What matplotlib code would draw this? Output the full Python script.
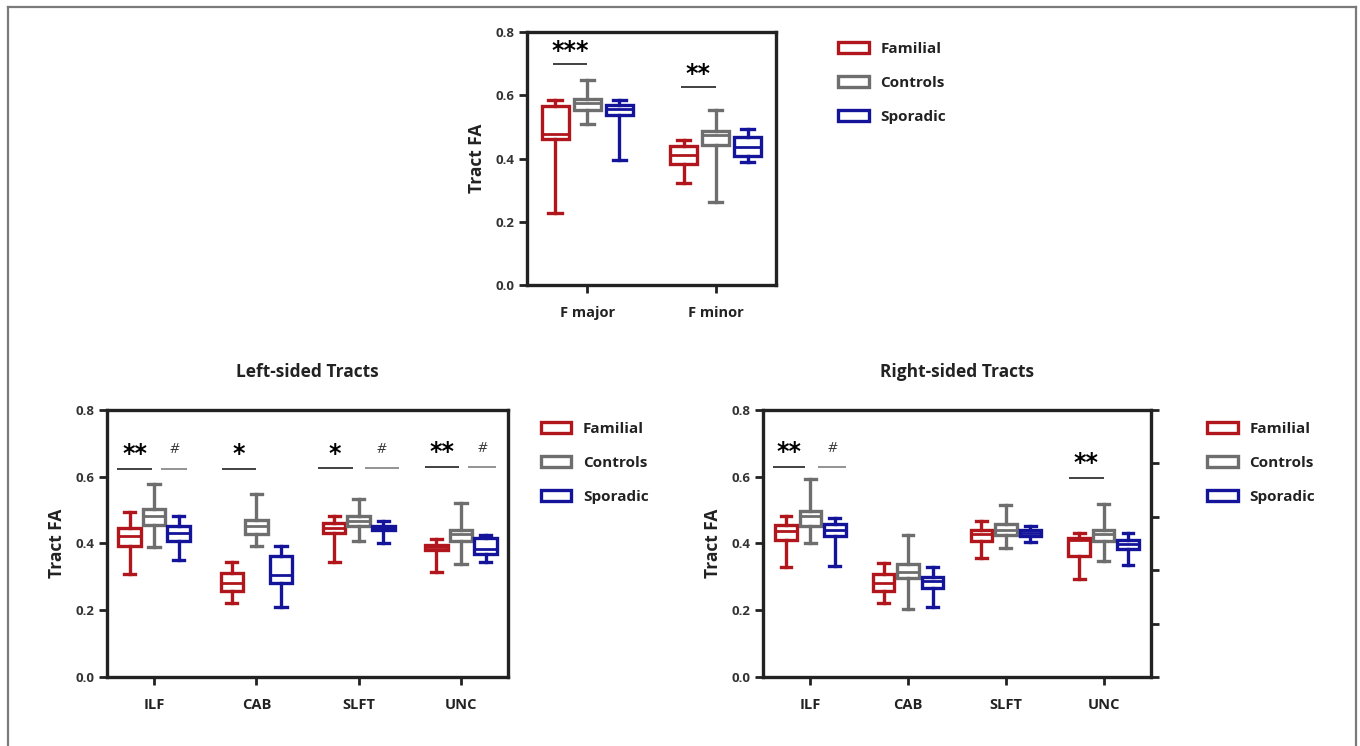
import matplotlib
matplotlib.use("Agg")
import matplotlib.pyplot as plt
from matplotlib.patches import Patch
from matplotlib.lines import Line2D
import numpy as np

plt.rcParams['font.family'] = ['Open Sans', 'DejaVu Sans']
plt.rcParams['font.weight'] = 'bold'

groups = ['Familial', 'Controls', 'Sporadic']
colors = ['#B0161C', '#6E6E6E', '#14149A']

# top panel: forceps
top_cats = ['F major', 'F minor']
# per group: [whislo, q1, med, q3, whishi] for each category
top_stats = {
    'Familial': [[0.229, 0.463, 0.479, 0.565, 0.584], [0.321, 0.384, 0.410, 0.439, 0.458]],
    'Controls': [[0.508, 0.555, 0.576, 0.589, 0.647], [0.263, 0.442, 0.474, 0.487, 0.555]],
    'Sporadic': [[0.395, 0.537, 0.558, 0.568, 0.584], [0.389, 0.407, 0.437, 0.468, 0.492]],
}

tract_cats = ['ILF', 'CAB', 'SLFT', 'UNC']
left_stats = {
    'Familial': [[0.308, 0.391, 0.421, 0.446, 0.493], [0.221, 0.259, 0.283, 0.311, 0.343],
                 [0.343, 0.431, 0.446, 0.461, 0.481], [0.316, 0.381, 0.389, 0.396, 0.413]],
    'Controls': [[0.388, 0.456, 0.481, 0.503, 0.578], [0.391, 0.429, 0.453, 0.471, 0.548],
                 [0.406, 0.451, 0.466, 0.483, 0.533], [0.339, 0.406, 0.429, 0.441, 0.521]],
    'Sporadic': [[0.349, 0.406, 0.431, 0.453, 0.481], [0.209, 0.281, 0.306, 0.361, 0.393],
                 [0.401, 0.439, 0.446, 0.453, 0.466], [0.343, 0.369, 0.383, 0.416, 0.426]],
}
right_stats = {
    'Familial': [[0.328, 0.411, 0.436, 0.456, 0.483], [0.221, 0.258, 0.283, 0.309, 0.341],
                 [0.356, 0.406, 0.429, 0.441, 0.468], [0.293, 0.361, 0.410, 0.416, 0.431]],
    'Controls': [[0.401, 0.451, 0.481, 0.496, 0.593], [0.203, 0.296, 0.316, 0.339, 0.424],
                 [0.386, 0.424, 0.441, 0.458, 0.516], [0.346, 0.406, 0.428, 0.441, 0.519]],
    'Sporadic': [[0.333, 0.421, 0.441, 0.458, 0.476], [0.209, 0.266, 0.288, 0.299, 0.329],
                 [0.403, 0.421, 0.431, 0.439, 0.451], [0.336, 0.383, 0.399, 0.411, 0.431]],
}

# significance marks: (category index, x0 offset, x1 offset, line y, text y, label)
top_sig = [(0, -0.27, 0.0, 0.700, 0.752, '***'), (1, -0.27, 0.0, 0.626, 0.680, '**')]
left_sig = [(0, -0.36, -0.02, 0.623, 0.680, '**'), (0, 0.07, 0.32, 0.623, 0.680, '#'),
            (1, -0.34, 0.0, 0.624, 0.680, '*'),
            (2, -0.40, -0.06, 0.626, 0.680, '*'), (2, 0.06, 0.39, 0.626, 0.680, '#'),
            (3, -0.35, -0.02, 0.629, 0.685, '**'), (3, 0.07, 0.34, 0.629, 0.685, '#')]
right_sig = [(0, -0.38, -0.05, 0.628, 0.685, '**'), (0, 0.08, 0.36, 0.628, 0.685, '#'),
             (3, -0.35, 0.0, 0.595, 0.652, '**')]

fig = plt.figure(figsize=(13.6, 7.46), dpi=100)


def draw_panel(ax, cats, stats, sigs, offset, width, xpad):
    n = len(cats)
    x = np.arange(n)
    for gi, g in enumerate(groups):
        st = [dict(whislo=s[0], q1=s[1], med=s[2], q3=s[3], whishi=s[4], fliers=[])
              for s in stats[g]]
        c = colors[gi]
        ax.bxp(st, positions=x + (gi - 1) * offset, widths=width,
               capwidths=width * 0.5, patch_artist=True, showfliers=False,
               boxprops=dict(facecolor='white', edgecolor=c, linewidth=2.4),
               medianprops=dict(color=c, linewidth=2.0),
               whiskerprops=dict(color=c, linewidth=2.4),
               capprops=dict(color=c, linewidth=2.4))
    for ci, a, b, ly, ty, lab in sigs:
        lc = '#333333' if lab != '#' else '#8A8A8A'
        ax.plot([ci + a, ci + b], [ly, ly], color=lc, lw=1.3, solid_capstyle='butt')
        if lab == '#':
            ax.text(ci + (a + b) / 2, ty, lab, ha='center', va='center', fontsize=10.5,
                    style='italic', color='#333333', fontweight='normal')
        else:
            ax.text(ci + (a + b) / 2, ty - 0.012, lab, ha='center', va='center', fontsize=17,
                    color='black', family=['DejaVu Sans'])
    ax.set_xlim(-xpad, n - 1 + xpad)
    ax.set_ylim(0, 0.8)
    ax.set_xticks(x)
    ax.set_xticklabels(cats, fontsize=10.5, fontweight='bold', color='#222222')
    ax.set_yticks([0, 0.2, 0.4, 0.6, 0.8])
    ax.set_yticklabels(['0.0', '0.2', '0.4', '0.6', '0.8'], fontsize=9.5, fontweight='bold',
                       color='#333333')
    ax.tick_params(axis='both', direction='out', length=6, width=2, color='#222222', pad=3)
    ax.tick_params(axis='x', pad=9)
    for s in ax.spines.values():
        s.set_linewidth(2.4)
        s.set_color('#222222')
    ax.set_ylabel('Tract FA', fontsize=12.5, fontweight='bold', labelpad=7, color='#222222')
    handles = [Patch(facecolor='white', edgecolor=c, linewidth=2.4) for c in colors]
    return handles


leg_kw = dict(loc='upper left', frameon=False, fontsize=11, handlelength=2.0,
              handleheight=0.75, handletextpad=0.75, labelspacing=1.32, labelcolor='#222222')

ax_top = fig.add_axes([0.3875, 0.618, 0.183, 0.339])
h = draw_panel(ax_top, top_cats, top_stats, top_sig, 0.25, 0.21, 0.47)
ax_top.legend(h, groups, bbox_to_anchor=(1.195, 1.016), **leg_kw)

ax_left = fig.add_axes([0.0787, 0.0925, 0.2949, 0.358])
h = draw_panel(ax_left, tract_cats, left_stats, left_sig, 0.24, 0.22, 0.46)
ax_left.set_title('Left-sided Tracts', fontsize=12.5, fontweight='bold', pad=24, color='#222222')
ax_left.legend(h, groups, bbox_to_anchor=(1.0475, 1.0075), **leg_kw)

ax_right = fig.add_axes([0.561, 0.0925, 0.2853, 0.358])
h = draw_panel(ax_right, tract_cats, right_stats, right_sig, 0.25, 0.22, 0.485)
ax_right.set_title('Right-sided Tracts', fontsize=12.5, fontweight='bold', pad=24, color='#222222')
ax_right.legend(h, groups, bbox_to_anchor=(1.11, 1.0075), **leg_kw)
ax_r2 = ax_right.twinx()
ax_r2.set_ylim(0, 0.8)
ax_r2.set_yticks(np.linspace(0, 0.8, 6))
ax_r2.set_yticklabels([])
ax_r2.tick_params(axis='y', direction='out', length=6, width=2, color='#222222')
for s in ax_r2.spines.values():
    s.set_visible(False)

# outer frame
fc = '#7A7A7A'
fig.add_artist(Line2D([7.5 / 1360, 7.5 / 1360], [0, 1 - 6.5 / 746], color=fc, lw=1.6))
fig.add_artist(Line2D([7.5 / 1360, 1355.5 / 1360], [1 - 6.5 / 746, 1 - 6.5 / 746], color=fc, lw=1.6))
fig.add_artist(Line2D([1355.5 / 1360, 1355.5 / 1360], [0, 1 - 6.5 / 746], color=fc, lw=1.6))

fig.savefig('out.png', dpi=100)
